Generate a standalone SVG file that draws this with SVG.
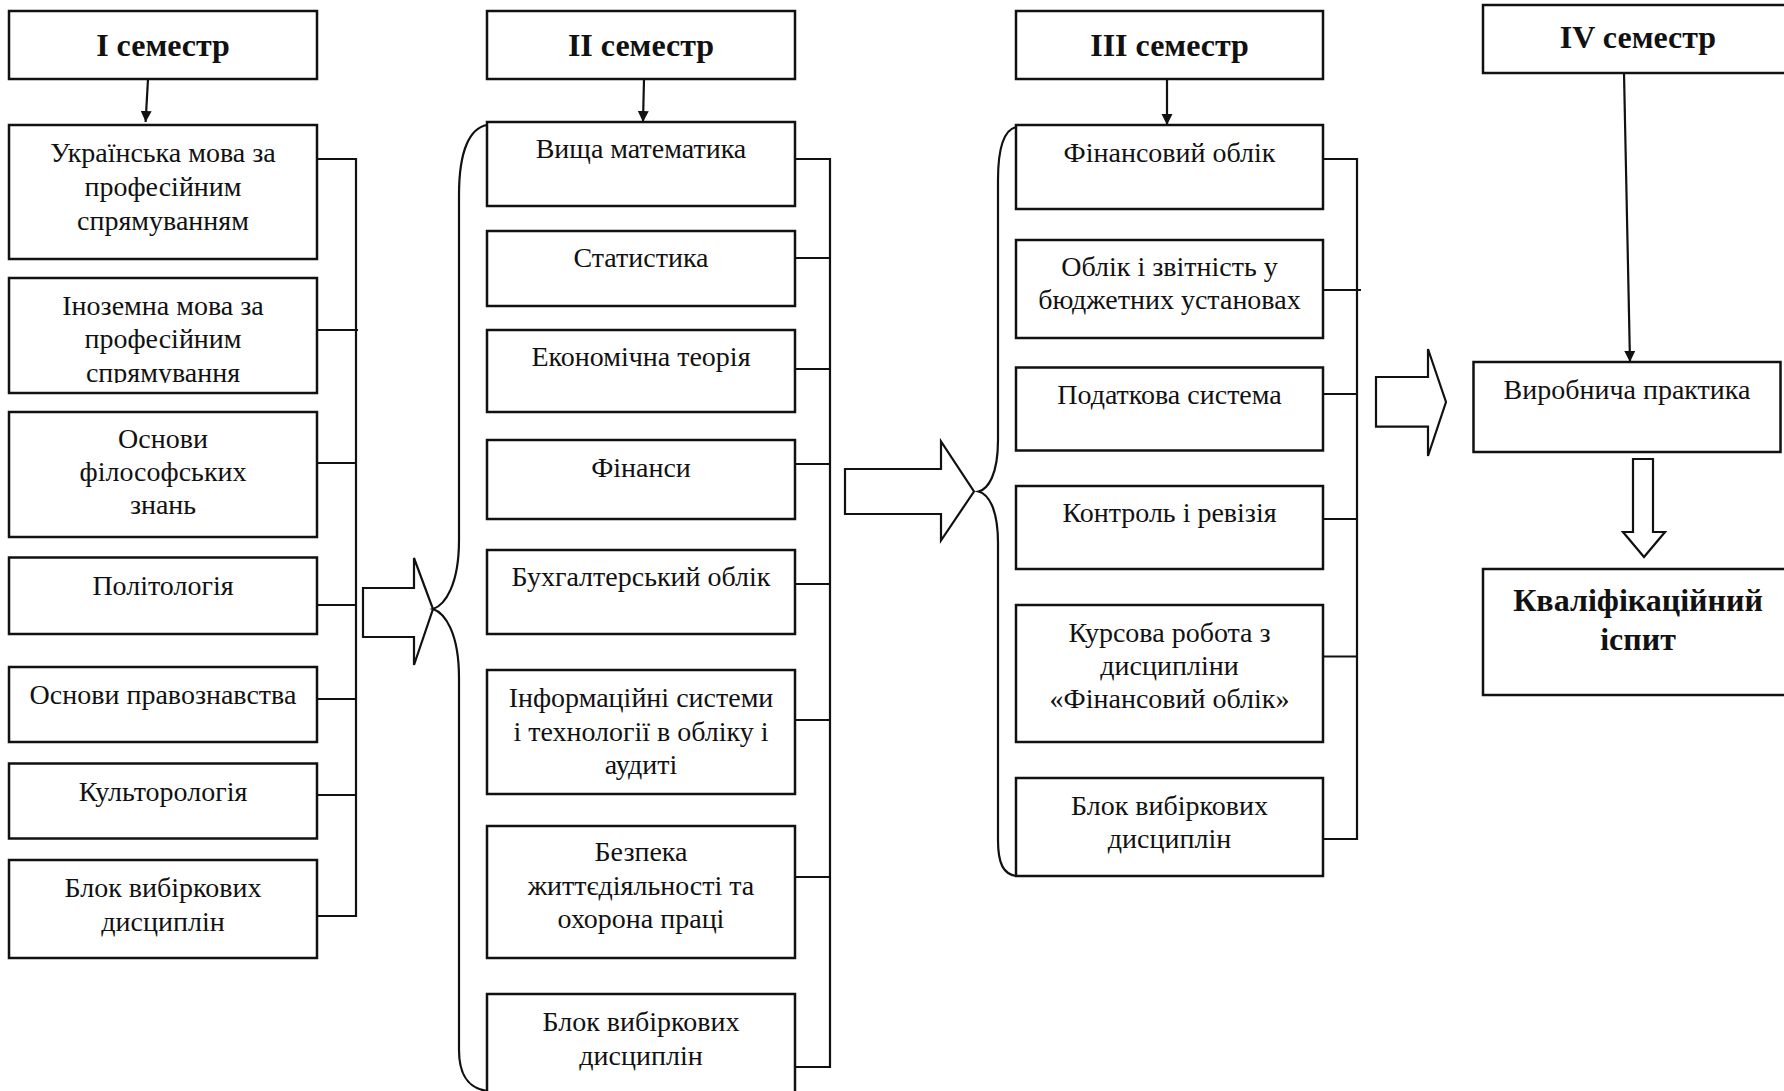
<svg xmlns="http://www.w3.org/2000/svg" width="1784" height="1091" viewBox="0 0 1784 1091">
  <style>
    .box { fill: #ffffff; stroke: #111111; stroke-width: 2.5; }
    .t { font-family: "Liberation Serif", "Times New Roman", serif; font-size: 28px; fill: #111111; text-anchor: middle; }
    .h { font-family: "Liberation Serif", "Times New Roman", serif; font-size: 32px; font-weight: bold; fill: #111111; text-anchor: middle; }
    .ln { fill: none; stroke: #111111; stroke-width: 2.2; }
    .big { fill: #ffffff; stroke: #111111; stroke-width: 2.2; stroke-linejoin: miter; }
  </style>
  <defs>
    <marker id="ah" viewBox="0 0 10 10" refX="10" refY="5" markerWidth="5" markerHeight="6" orient="auto" markerUnits="strokeWidth">
      <path d="M0,0 L10,5 L0,10 Z" fill="#111111"/>
    </marker>
    <clipPath id="clipB2">
      <rect x="9" y="278" width="308" height="105"/>
    </clipPath>
  </defs>
  <rect width="1784" height="1091" fill="#ffffff"/>

  <!-- Connectors -->
  <g id="connectors">
    <line class="ln" x1="148" y1="79" x2="145.6" y2="122" marker-end="url(#ah)"/>
    <line class="ln" x1="644" y1="79" x2="643" y2="122" marker-end="url(#ah)"/>
    <line class="ln" x1="1167" y1="79" x2="1167" y2="125" marker-end="url(#ah)"/>
    <line class="ln" x1="1624" y1="73" x2="1630" y2="362" marker-end="url(#ah)"/>

    <path class="ln" d="M317,159 H356 V916 H317"/>
    <path class="ln" d="M317,330 H358 M317,463 H357 M317,605 H357 M317,699 H357 M317,795 H357"/>

    <path class="ln" d="M795,159 H830 V1067 H795"/>
    <path class="ln" d="M795,258 H830 M795,369 H830 M795,464 H830 M795,584 H830 M795,720 H830 M795,877 H830"/>

    <path class="ln" d="M1323,159 H1357 V839 H1323"/>
    <path class="ln" d="M1323,290 H1361 M1323,394 H1358 M1323,519 H1358 M1323,656.5 H1358"/>

    <path class="big" d="M363,588 H414 V558 L433,609 L414,665 V637 H363 Z"/>
    <path class="big" d="M845,469 H941 V441.5 L974,491.5 L941,540.5 V514 H845 Z"/>
    <path class="big" d="M1376,377 H1428 V349 L1446,402 L1428,456 V426.6 H1376 Z"/>
    <path class="big" d="M1633,459 V532 H1623 L1644,557 L1665,532 H1653 V459 Z"/>

    <path class="ln" d="M487,125 C470,128 459,150 459,195 L459,540 C459,585 445,605 433,609 C445,613 459,633 459,678 L459,1050 C459,1075 468,1088 487,1091"/>
    <path class="ln" d="M1016,127 C1004,130 998,146 998,180 L998,440 C998,475 988,489 978.5,491.5 C988,494 998,508 998,543 L998,840 C998,865 1004,874 1016,876"/>
  </g>

  <!-- Semester I -->
  <g id="sem1-header"><rect class="box" x="9" y="11" width="308" height="68"/><text class="h" x="163" y="56">I семестр</text></g>
  <g id="sem1-ukr"><rect class="box" x="9" y="125" width="308" height="134"/>
    <text class="t" x="163" y="162">Українська мова за</text><text class="t" x="163" y="196">професійним</text><text class="t" x="163" y="230">спрямуванням</text></g>
  <g id="sem1-foreign"><rect class="box" x="9" y="278" width="308" height="115"/>
    <g clip-path="url(#clipB2)"><text class="t" x="163" y="315">Іноземна мова за</text><text class="t" x="163" y="348">професійним</text><text class="t" x="163" y="382">спрямування</text></g></g>
  <g id="sem1-philos"><rect class="box" x="9" y="412" width="308" height="125"/>
    <text class="t" x="163" y="448">Основи</text><text class="t" x="163" y="481">філософських</text><text class="t" x="163" y="514">знань</text></g>
  <g id="sem1-polit"><rect class="box" x="9" y="557.5" width="308" height="76.5"/><text class="t" x="163" y="595">Політологія</text></g>
  <g id="sem1-law"><rect class="box" x="9" y="667" width="308" height="75"/><text class="t" x="163" y="704">Основи правознавства</text></g>
  <g id="sem1-cult"><rect class="box" x="9" y="763.5" width="308" height="75"/><text class="t" x="163" y="801">Культорологія</text></g>
  <g id="sem1-elect"><rect class="box" x="9" y="860" width="308" height="98"/>
    <text class="t" x="163" y="897">Блок вибіркових</text><text class="t" x="163" y="931">дисциплін</text></g>

  <!-- Semester II -->
  <g id="sem2-header"><rect class="box" x="487" y="11" width="308" height="68"/><text class="h" x="641" y="56">II семестр</text></g>
  <g id="sem2-math"><rect class="box" x="487" y="122" width="308" height="84"/><text class="t" x="641" y="158">Вища математика</text></g>
  <g id="sem2-stat"><rect class="box" x="487" y="231" width="308" height="75"/><text class="t" x="641" y="267">Статистика</text></g>
  <g id="sem2-econ"><rect class="box" x="487" y="330" width="308" height="82"/><text class="t" x="641" y="366">Економічна теорія</text></g>
  <g id="sem2-fin"><rect class="box" x="487" y="440" width="308" height="79"/><text class="t" x="641" y="477">Фінанси</text></g>
  <g id="sem2-acc"><rect class="box" x="487" y="550" width="308" height="84"/><text class="t" x="641" y="586">Бухгалтерський облік</text></g>
  <g id="sem2-it"><rect class="box" x="487" y="670" width="308" height="124"/>
    <text class="t" x="641" y="707">Інформаційні системи</text><text class="t" x="641" y="741">і технології в обліку і</text><text class="t" x="641" y="774">аудиті</text></g>
  <g id="sem2-safety"><rect class="box" x="487" y="826" width="308" height="132"/>
    <text class="t" x="641" y="861">Безпека</text><text class="t" x="641" y="895">життєдіяльності та</text><text class="t" x="641" y="928">охорона праці</text></g>
  <g id="sem2-elect"><rect class="box" x="487" y="994" width="308" height="110"/>
    <text class="t" x="641" y="1031">Блок вибіркових</text><text class="t" x="641" y="1065">дисциплін</text></g>

  <!-- Semester III -->
  <g id="sem3-header"><rect class="box" x="1016" y="11" width="307" height="68"/><text class="h" x="1169.5" y="56">III семестр</text></g>
  <g id="sem3-finacc"><rect class="box" x="1016" y="125" width="307" height="84"/><text class="t" x="1169.5" y="162">Фінансовий облік</text></g>
  <g id="sem3-budget"><rect class="box" x="1016" y="240" width="307" height="98"/>
    <text class="t" x="1169.5" y="276">Облік і звітність у</text><text class="t" x="1169.5" y="309">бюджетних установах</text></g>
  <g id="sem3-tax"><rect class="box" x="1016" y="367.5" width="307" height="83"/><text class="t" x="1169.5" y="404">Податкова система</text></g>
  <g id="sem3-audit"><rect class="box" x="1016" y="486" width="307" height="83"/><text class="t" x="1169.5" y="522">Контроль і ревізія</text></g>
  <g id="sem3-course"><rect class="box" x="1016" y="605" width="307" height="137"/>
    <text class="t" x="1169.5" y="642">Курсова робота з</text><text class="t" x="1169.5" y="675">дисципліни</text><text class="t" x="1169.5" y="708">«Фінансовий облік»</text></g>
  <g id="sem3-elect"><rect class="box" x="1016" y="778" width="307" height="98"/>
    <text class="t" x="1169.5" y="815">Блок вибіркових</text><text class="t" x="1169.5" y="848">дисциплін</text></g>

  <!-- Semester IV -->
  <g id="sem4-header"><rect class="box" x="1483" y="5" width="311" height="68"/><text class="h" x="1638" y="48">IV семестр</text></g>
  <g id="sem4-practice"><rect class="box" x="1473.5" y="362" width="307" height="90"/><text class="t" x="1627" y="399">Виробнича практика</text></g>
  <g id="sem4-exam"><rect class="box" x="1483" y="569" width="311" height="126"/>
    <text class="h" x="1638" y="611">Кваліфікаційний</text><text class="h" x="1638" y="650">іспит</text></g>
</svg>
